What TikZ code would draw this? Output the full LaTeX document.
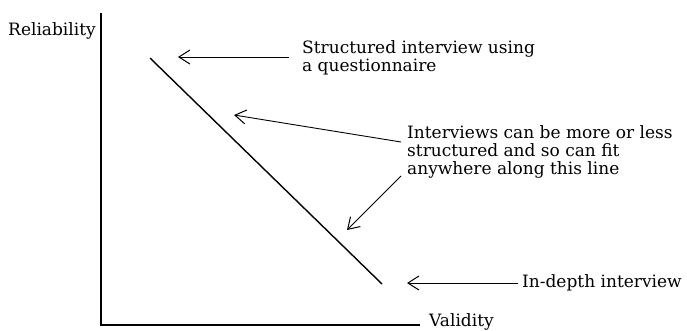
\documentclass[tikz,border=0pt]{standalone}
\usepackage{fontspec}
\setmainfont{DejaVu Serif}
\usetikzlibrary{arrows.meta}
\begin{document}
\begin{tikzpicture}[x=1pt,y=-1pt,
  lbl/.style={inner sep=0pt,font=\fontsize{17}{18.2}\selectfont,align=left},
  axis/.style={line width=1.6pt},
  ptr/.style={line width=0.9pt,-{Straight Barb[length=11pt,width=14pt,line width=1pt]}}]
\useasboundingbox (0,0) rectangle (687,330);
% axes
\coordinate (top) at (101,13);
\coordinate (origin) at (101,325);
\coordinate (xend) at (420,325);
\draw[axis] (top) -- (origin) -- (xend);
\node[lbl,anchor=base west] (rel) at (8,35) {Reliability};
\node[lbl,anchor=base west] (val) at (429,326) {Validity};
% diagonal
\coordinate (d1) at (150,58);
\coordinate (d2) at (382,284);
\draw[line width=1.4pt] (d1) -- (d2);
% labels
\node[lbl,anchor=north west] (s) at (302,40) {Structured interview using\\a questionnaire};
\node[lbl,anchor=north west] (m) at (407,125) {Interviews can be more or less\\structured and so can fit\\anywhere along this line};
\node[lbl,anchor=base west] (d) at (522,287) {In-depth interview};
% arrow endpoints
\coordinate (s0) at (289,57);
\coordinate (s1) at (178,57);
\coordinate (m0) at (401,142);
\coordinate (m1) at (234,115);
\coordinate (n0) at (401,176);
\coordinate (n1) at (347,230);
\coordinate (i0) at (518,283);
\coordinate (i1) at (407,283);
\draw[ptr] (s0) -- (s1);
\draw[ptr] (m0) -- (m1);
\draw[ptr] (n0) -- (n1);
\draw[ptr] (i0) -- (i1);
\end{tikzpicture}
\end{document}
